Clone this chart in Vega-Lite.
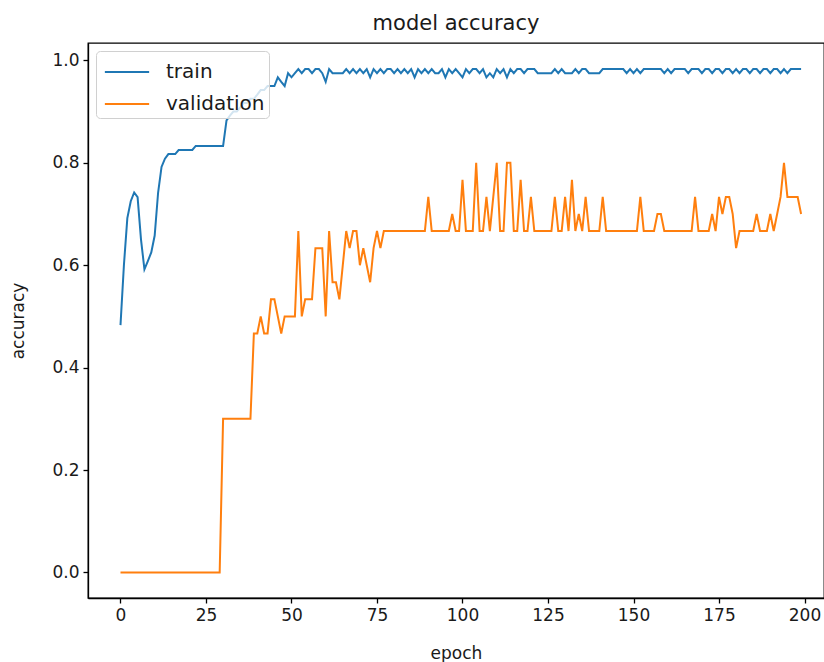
{
  "$schema": "https://vega.github.io/schema/vega-lite/v6.json",
  "width": 736,
  "height": 555,
  "autosize": {"type": "none"},
  "padding": {"left": 88, "top": 43, "right": 0, "bottom": 64},
  "title": {"text": "model accuracy", "fontSize": 21, "fontWeight": "normal", "offset": 9, "color": "#1a1a1a", "font": "DejaVu Sans", "frame": "group", "anchor": "middle"},
  "data": {"values": [
{"epoch":0,"train":0.483,"validation":0},{"epoch":1,"train":0.6,"validation":0},{"epoch":2,"train":0.692,"validation":0},{"epoch":3,"train":0.725,"validation":0},{"epoch":4,"train":0.742,"validation":0},{"epoch":5,"train":0.733,"validation":0},{"epoch":6,"train":0.65,"validation":0},{"epoch":7,"train":0.592,"validation":0},{"epoch":8,"train":0.608,"validation":0},{"epoch":9,"train":0.625,"validation":0},
{"epoch":10,"train":0.658,"validation":0},{"epoch":11,"train":0.742,"validation":0},{"epoch":12,"train":0.792,"validation":0},{"epoch":13,"train":0.808,"validation":0},{"epoch":14,"train":0.817,"validation":0},{"epoch":15,"train":0.817,"validation":0},{"epoch":16,"train":0.817,"validation":0},{"epoch":17,"train":0.825,"validation":0},{"epoch":18,"train":0.825,"validation":0},{"epoch":19,"train":0.825,"validation":0},
{"epoch":20,"train":0.825,"validation":0},{"epoch":21,"train":0.825,"validation":0},{"epoch":22,"train":0.833,"validation":0},{"epoch":23,"train":0.833,"validation":0},{"epoch":24,"train":0.833,"validation":0},{"epoch":25,"train":0.833,"validation":0},{"epoch":26,"train":0.833,"validation":0},{"epoch":27,"train":0.833,"validation":0},{"epoch":28,"train":0.833,"validation":0},{"epoch":29,"train":0.833,"validation":0},
{"epoch":30,"train":0.833,"validation":0.3},{"epoch":31,"train":0.883,"validation":0.3},{"epoch":32,"train":0.892,"validation":0.3},{"epoch":33,"train":0.9,"validation":0.3},{"epoch":34,"train":0.9,"validation":0.3},{"epoch":35,"train":0.908,"validation":0.3},{"epoch":36,"train":0.917,"validation":0.3},{"epoch":37,"train":0.917,"validation":0.3},{"epoch":38,"train":0.925,"validation":0.3},{"epoch":39,"train":0.925,"validation":0.4667},
{"epoch":40,"train":0.933,"validation":0.4667},{"epoch":41,"train":0.942,"validation":0.5},{"epoch":42,"train":0.942,"validation":0.4667},{"epoch":43,"train":0.95,"validation":0.4667},{"epoch":44,"train":0.95,"validation":0.5333},{"epoch":45,"train":0.95,"validation":0.5333},{"epoch":46,"train":0.967,"validation":0.5},{"epoch":47,"train":0.958,"validation":0.4667},{"epoch":48,"train":0.95,"validation":0.5},{"epoch":49,"train":0.975,"validation":0.5},
{"epoch":50,"train":0.967,"validation":0.5},{"epoch":51,"train":0.975,"validation":0.5},{"epoch":52,"train":0.983,"validation":0.6667},{"epoch":53,"train":0.975,"validation":0.5},{"epoch":54,"train":0.983,"validation":0.5333},{"epoch":55,"train":0.983,"validation":0.5333},{"epoch":56,"train":0.975,"validation":0.5333},{"epoch":57,"train":0.983,"validation":0.6333},{"epoch":58,"train":0.983,"validation":0.6333},{"epoch":59,"train":0.975,"validation":0.6333},
{"epoch":60,"train":0.958,"validation":0.5},{"epoch":61,"train":0.983,"validation":0.6667},{"epoch":62,"train":0.975,"validation":0.5667},{"epoch":63,"train":0.975,"validation":0.5667},{"epoch":64,"train":0.975,"validation":0.5333},{"epoch":65,"train":0.975,"validation":0.6},{"epoch":66,"train":0.983,"validation":0.6667},{"epoch":67,"train":0.975,"validation":0.6333},{"epoch":68,"train":0.983,"validation":0.6667},{"epoch":69,"train":0.975,"validation":0.6667},
{"epoch":70,"train":0.983,"validation":0.6},{"epoch":71,"train":0.975,"validation":0.6333},{"epoch":72,"train":0.983,"validation":0.6},{"epoch":73,"train":0.967,"validation":0.5667},{"epoch":74,"train":0.983,"validation":0.6333},{"epoch":75,"train":0.975,"validation":0.6667},{"epoch":76,"train":0.983,"validation":0.6333},{"epoch":77,"train":0.975,"validation":0.6667},{"epoch":78,"train":0.983,"validation":0.6667},{"epoch":79,"train":0.983,"validation":0.6667},
{"epoch":80,"train":0.975,"validation":0.6667},{"epoch":81,"train":0.983,"validation":0.6667},{"epoch":82,"train":0.975,"validation":0.6667},{"epoch":83,"train":0.983,"validation":0.6667},{"epoch":84,"train":0.975,"validation":0.6667},{"epoch":85,"train":0.983,"validation":0.6667},{"epoch":86,"train":0.967,"validation":0.6667},{"epoch":87,"train":0.983,"validation":0.6667},{"epoch":88,"train":0.975,"validation":0.6667},{"epoch":89,"train":0.983,"validation":0.6667},
{"epoch":90,"train":0.975,"validation":0.7333},{"epoch":91,"train":0.983,"validation":0.6667},{"epoch":92,"train":0.975,"validation":0.6667},{"epoch":93,"train":0.975,"validation":0.6667},{"epoch":94,"train":0.983,"validation":0.6667},{"epoch":95,"train":0.967,"validation":0.6667},{"epoch":96,"train":0.983,"validation":0.6667},{"epoch":97,"train":0.975,"validation":0.7},{"epoch":98,"train":0.983,"validation":0.6667},{"epoch":99,"train":0.975,"validation":0.6667},
{"epoch":100,"train":0.967,"validation":0.7667},{"epoch":101,"train":0.983,"validation":0.6667},{"epoch":102,"train":0.975,"validation":0.6667},{"epoch":103,"train":0.983,"validation":0.6667},{"epoch":104,"train":0.983,"validation":0.8},{"epoch":105,"train":0.975,"validation":0.6667},{"epoch":106,"train":0.983,"validation":0.6667},{"epoch":107,"train":0.967,"validation":0.7333},{"epoch":108,"train":0.975,"validation":0.6667},{"epoch":109,"train":0.967,"validation":0.7333},
{"epoch":110,"train":0.983,"validation":0.8},{"epoch":111,"train":0.975,"validation":0.6667},{"epoch":112,"train":0.983,"validation":0.6667},{"epoch":113,"train":0.967,"validation":0.8},{"epoch":114,"train":0.983,"validation":0.8},{"epoch":115,"train":0.975,"validation":0.6667},{"epoch":116,"train":0.983,"validation":0.6667},{"epoch":117,"train":0.983,"validation":0.7667},{"epoch":118,"train":0.975,"validation":0.6667},{"epoch":119,"train":0.983,"validation":0.6667},
{"epoch":120,"train":0.983,"validation":0.7333},{"epoch":121,"train":0.983,"validation":0.6667},{"epoch":122,"train":0.975,"validation":0.6667},{"epoch":123,"train":0.975,"validation":0.6667},{"epoch":124,"train":0.975,"validation":0.6667},{"epoch":125,"train":0.975,"validation":0.6667},{"epoch":126,"train":0.975,"validation":0.6667},{"epoch":127,"train":0.983,"validation":0.7333},{"epoch":128,"train":0.975,"validation":0.6667},{"epoch":129,"train":0.983,"validation":0.6667},
{"epoch":130,"train":0.975,"validation":0.7333},{"epoch":131,"train":0.975,"validation":0.6667},{"epoch":132,"train":0.975,"validation":0.7667},{"epoch":133,"train":0.983,"validation":0.6667},{"epoch":134,"train":0.975,"validation":0.7},{"epoch":135,"train":0.983,"validation":0.6667},{"epoch":136,"train":0.983,"validation":0.7333},{"epoch":137,"train":0.975,"validation":0.6667},{"epoch":138,"train":0.975,"validation":0.6667},{"epoch":139,"train":0.975,"validation":0.6667},
{"epoch":140,"train":0.975,"validation":0.6667},{"epoch":141,"train":0.983,"validation":0.7333},{"epoch":142,"train":0.983,"validation":0.6667},{"epoch":143,"train":0.983,"validation":0.6667},{"epoch":144,"train":0.983,"validation":0.6667},{"epoch":145,"train":0.983,"validation":0.6667},{"epoch":146,"train":0.983,"validation":0.6667},{"epoch":147,"train":0.983,"validation":0.6667},{"epoch":148,"train":0.975,"validation":0.6667},{"epoch":149,"train":0.983,"validation":0.6667},
{"epoch":150,"train":0.975,"validation":0.6667},{"epoch":151,"train":0.983,"validation":0.6667},{"epoch":152,"train":0.975,"validation":0.7333},{"epoch":153,"train":0.983,"validation":0.6667},{"epoch":154,"train":0.983,"validation":0.6667},{"epoch":155,"train":0.983,"validation":0.6667},{"epoch":156,"train":0.983,"validation":0.6667},{"epoch":157,"train":0.983,"validation":0.7},{"epoch":158,"train":0.983,"validation":0.7},{"epoch":159,"train":0.975,"validation":0.6667},
{"epoch":160,"train":0.983,"validation":0.6667},{"epoch":161,"train":0.975,"validation":0.6667},{"epoch":162,"train":0.983,"validation":0.6667},{"epoch":163,"train":0.983,"validation":0.6667},{"epoch":164,"train":0.983,"validation":0.6667},{"epoch":165,"train":0.983,"validation":0.6667},{"epoch":166,"train":0.975,"validation":0.6667},{"epoch":167,"train":0.983,"validation":0.6667},{"epoch":168,"train":0.983,"validation":0.7333},{"epoch":169,"train":0.983,"validation":0.6667},
{"epoch":170,"train":0.975,"validation":0.6667},{"epoch":171,"train":0.983,"validation":0.6667},{"epoch":172,"train":0.983,"validation":0.6667},{"epoch":173,"train":0.975,"validation":0.7},{"epoch":174,"train":0.983,"validation":0.6667},{"epoch":175,"train":0.983,"validation":0.7333},{"epoch":176,"train":0.975,"validation":0.7},{"epoch":177,"train":0.983,"validation":0.7333},{"epoch":178,"train":0.983,"validation":0.7333},{"epoch":179,"train":0.975,"validation":0.7},
{"epoch":180,"train":0.983,"validation":0.6333},{"epoch":181,"train":0.975,"validation":0.6667},{"epoch":182,"train":0.983,"validation":0.6667},{"epoch":183,"train":0.983,"validation":0.6667},{"epoch":184,"train":0.975,"validation":0.6667},{"epoch":185,"train":0.983,"validation":0.6667},{"epoch":186,"train":0.983,"validation":0.7},{"epoch":187,"train":0.975,"validation":0.6667},{"epoch":188,"train":0.983,"validation":0.6667},{"epoch":189,"train":0.983,"validation":0.6667},
{"epoch":190,"train":0.975,"validation":0.7},{"epoch":191,"train":0.983,"validation":0.6667},{"epoch":192,"train":0.983,"validation":0.7},{"epoch":193,"train":0.975,"validation":0.7333},{"epoch":194,"train":0.983,"validation":0.8},{"epoch":195,"train":0.975,"validation":0.7333},{"epoch":196,"train":0.983,"validation":0.7333},{"epoch":197,"train":0.983,"validation":0.7333},{"epoch":198,"train":0.983,"validation":0.7333},{"epoch":199,"train":0.983,"validation":0.7}
  ]},
  "transform": [{"fold": ["train", "validation"], "as": ["series", "accuracy"]}],
  "mark": {"type": "line", "strokeWidth": 2},
  "encoding": {
    "x": {"field": "epoch", "type": "quantitative",
      "scale": {"domain": [-9.5, 205.7], "nice": false, "zero": false},
      "axis": {"values": [0, 25, 50, 75, 100, 125, 150, 175, 200], "title": "epoch", "titlePadding": 22, "labelFlush": false, "labelOverlap": false}},
    "y": {"field": "accuracy", "type": "quantitative",
      "scale": {"domain": [-0.05, 1.034], "nice": false, "zero": false},
      "axis": {"values": [0, 0.2, 0.4, 0.6, 0.8, 1.0], "format": ".1f", "title": "accuracy", "titlePadding": 24, "labelFlush": false, "labelOverlap": false}},
    "color": {"field": "series", "type": "nominal",
      "scale": {"domain": ["train", "validation"], "range": ["#1f77b4", "#ff7f0e"]},
      "legend": {"title": null, "orient": "none", "legendX": 8, "legendY": 8,
        "symbolType": "M-1.4,0H1.4", "symbolSize": 1000, "symbolStrokeWidth": 2, "symbolOffset": 10,
        "labelFontSize": 20, "labelOffset": 22, "labelColor": "#1a1a1a", "labelFont": "DejaVu Sans",
        "padding": 4, "rowPadding": 5, "fillColor": "rgba(255,255,255,0.8)", "strokeColor": "#d0d0d0", "cornerRadius": 4}}
  },
  "config": {
    "font": "DejaVu Sans",
    "view": {"stroke": "#000", "strokeWidth": 1.3},
    "axis": {"domainColor": "#000", "domainWidth": 1.3, "tickColor": "#000", "tickWidth": 1.3, "tickSize": 5,
      "labelFontSize": 17, "labelColor": "#1a1a1a", "labelFont": "DejaVu Sans", "labelPadding": 4,
      "titleFontSize": 17, "titleFontWeight": "normal", "titleColor": "#1a1a1a", "titleFont": "DejaVu Sans", "grid": false}
  }
}
